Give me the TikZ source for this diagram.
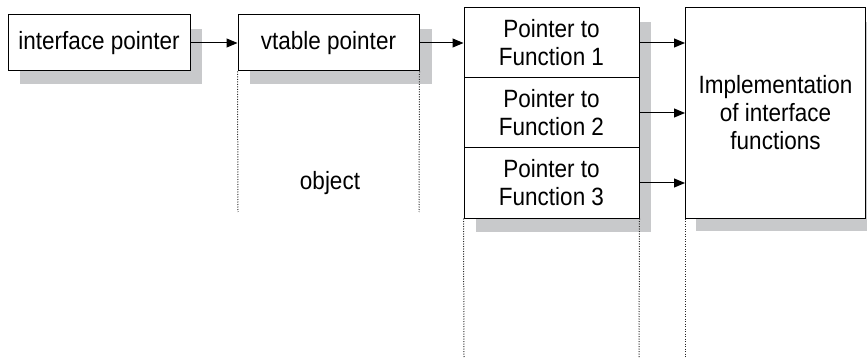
\documentclass[tikz,border=0pt]{standalone}
\usepackage{fontspec}
\setmainfont{Liberation Sans}[FakeStretch=0.9]
\usetikzlibrary{arrows.meta}
\definecolor{shadowc}{RGB}{200,201,203}
\begin{document}
\begin{tikzpicture}[x=1pt,y=-1pt,
  font=\fontsize{25}{28}\selectfont,
  box/.style={draw, line width=1pt, fill=white, inner sep=0pt, align=center},
  shade/.style={fill=shadowc},
  conn/.style={line width=1pt, -{Triangle[length=11pt,width=9pt]}},
  guide/.style={line width=1pt, dash pattern=on 1pt off 1.5pt, black!85}]
\useasboundingbox (0,0) rectangle (867,358);
% shadows
\fill[shade] (20,29) rectangle (202,84);
\fill[shade] (250,29) rectangle (432,84);
\fill[shade] (476,22) rectangle (651,232);
\fill[shade] (696,22) rectangle (867,231);
% boxes
\node[box, minimum width=182pt, minimum height=56pt] (ip) at (99,43) {interface pointer};
\node[box, minimum width=181pt, minimum height=56pt] (vp) at (328.5,43) {vtable pointer};
\node[box, minimum width=175pt, minimum height=70pt] (f1) at (551.5,43) {Pointer to\\Function 1};
\node[box, minimum width=175pt, minimum height=70pt] (f2) at (551.5,113) {Pointer to\\Function 2};
\node[box, minimum width=175pt, minimum height=70pt] (f3) at (551.5,183) {Pointer to\\Function 3};
\node[box, minimum width=180pt, minimum height=210pt] (impl) at (775.5,113) {Implementation\\of interface\\functions};
\node (obj) at (330,183) {object};
% connectors
\draw[conn] (ip.east) -- (vp.west);
\draw[conn] (vp.east) -- (vp.east -| f1.west);
\draw[conn] (f1.east) -- (f1.east -| impl.west);
\draw[conn] (f2.east) -- (f2.east -| impl.west);
\draw[conn] (f3.east) -- (f3.east -| impl.west);
% dotted guides
\coordinate (g1) at (238,212);
\coordinate (g2) at (419,212);
\coordinate (g3) at (464,358);
\coordinate (g4) at (639,358);
\coordinate (g5) at (685,358);
\draw[guide] (vp.south west) -- (g1);
\draw[guide] (vp.south east) -- (g2);
\draw[guide] (f3.south west) -- (g3);
\draw[guide] (f3.south east) -- (g4);
\draw[guide] (impl.south west) -- (g5);
\end{tikzpicture}
\end{document}
